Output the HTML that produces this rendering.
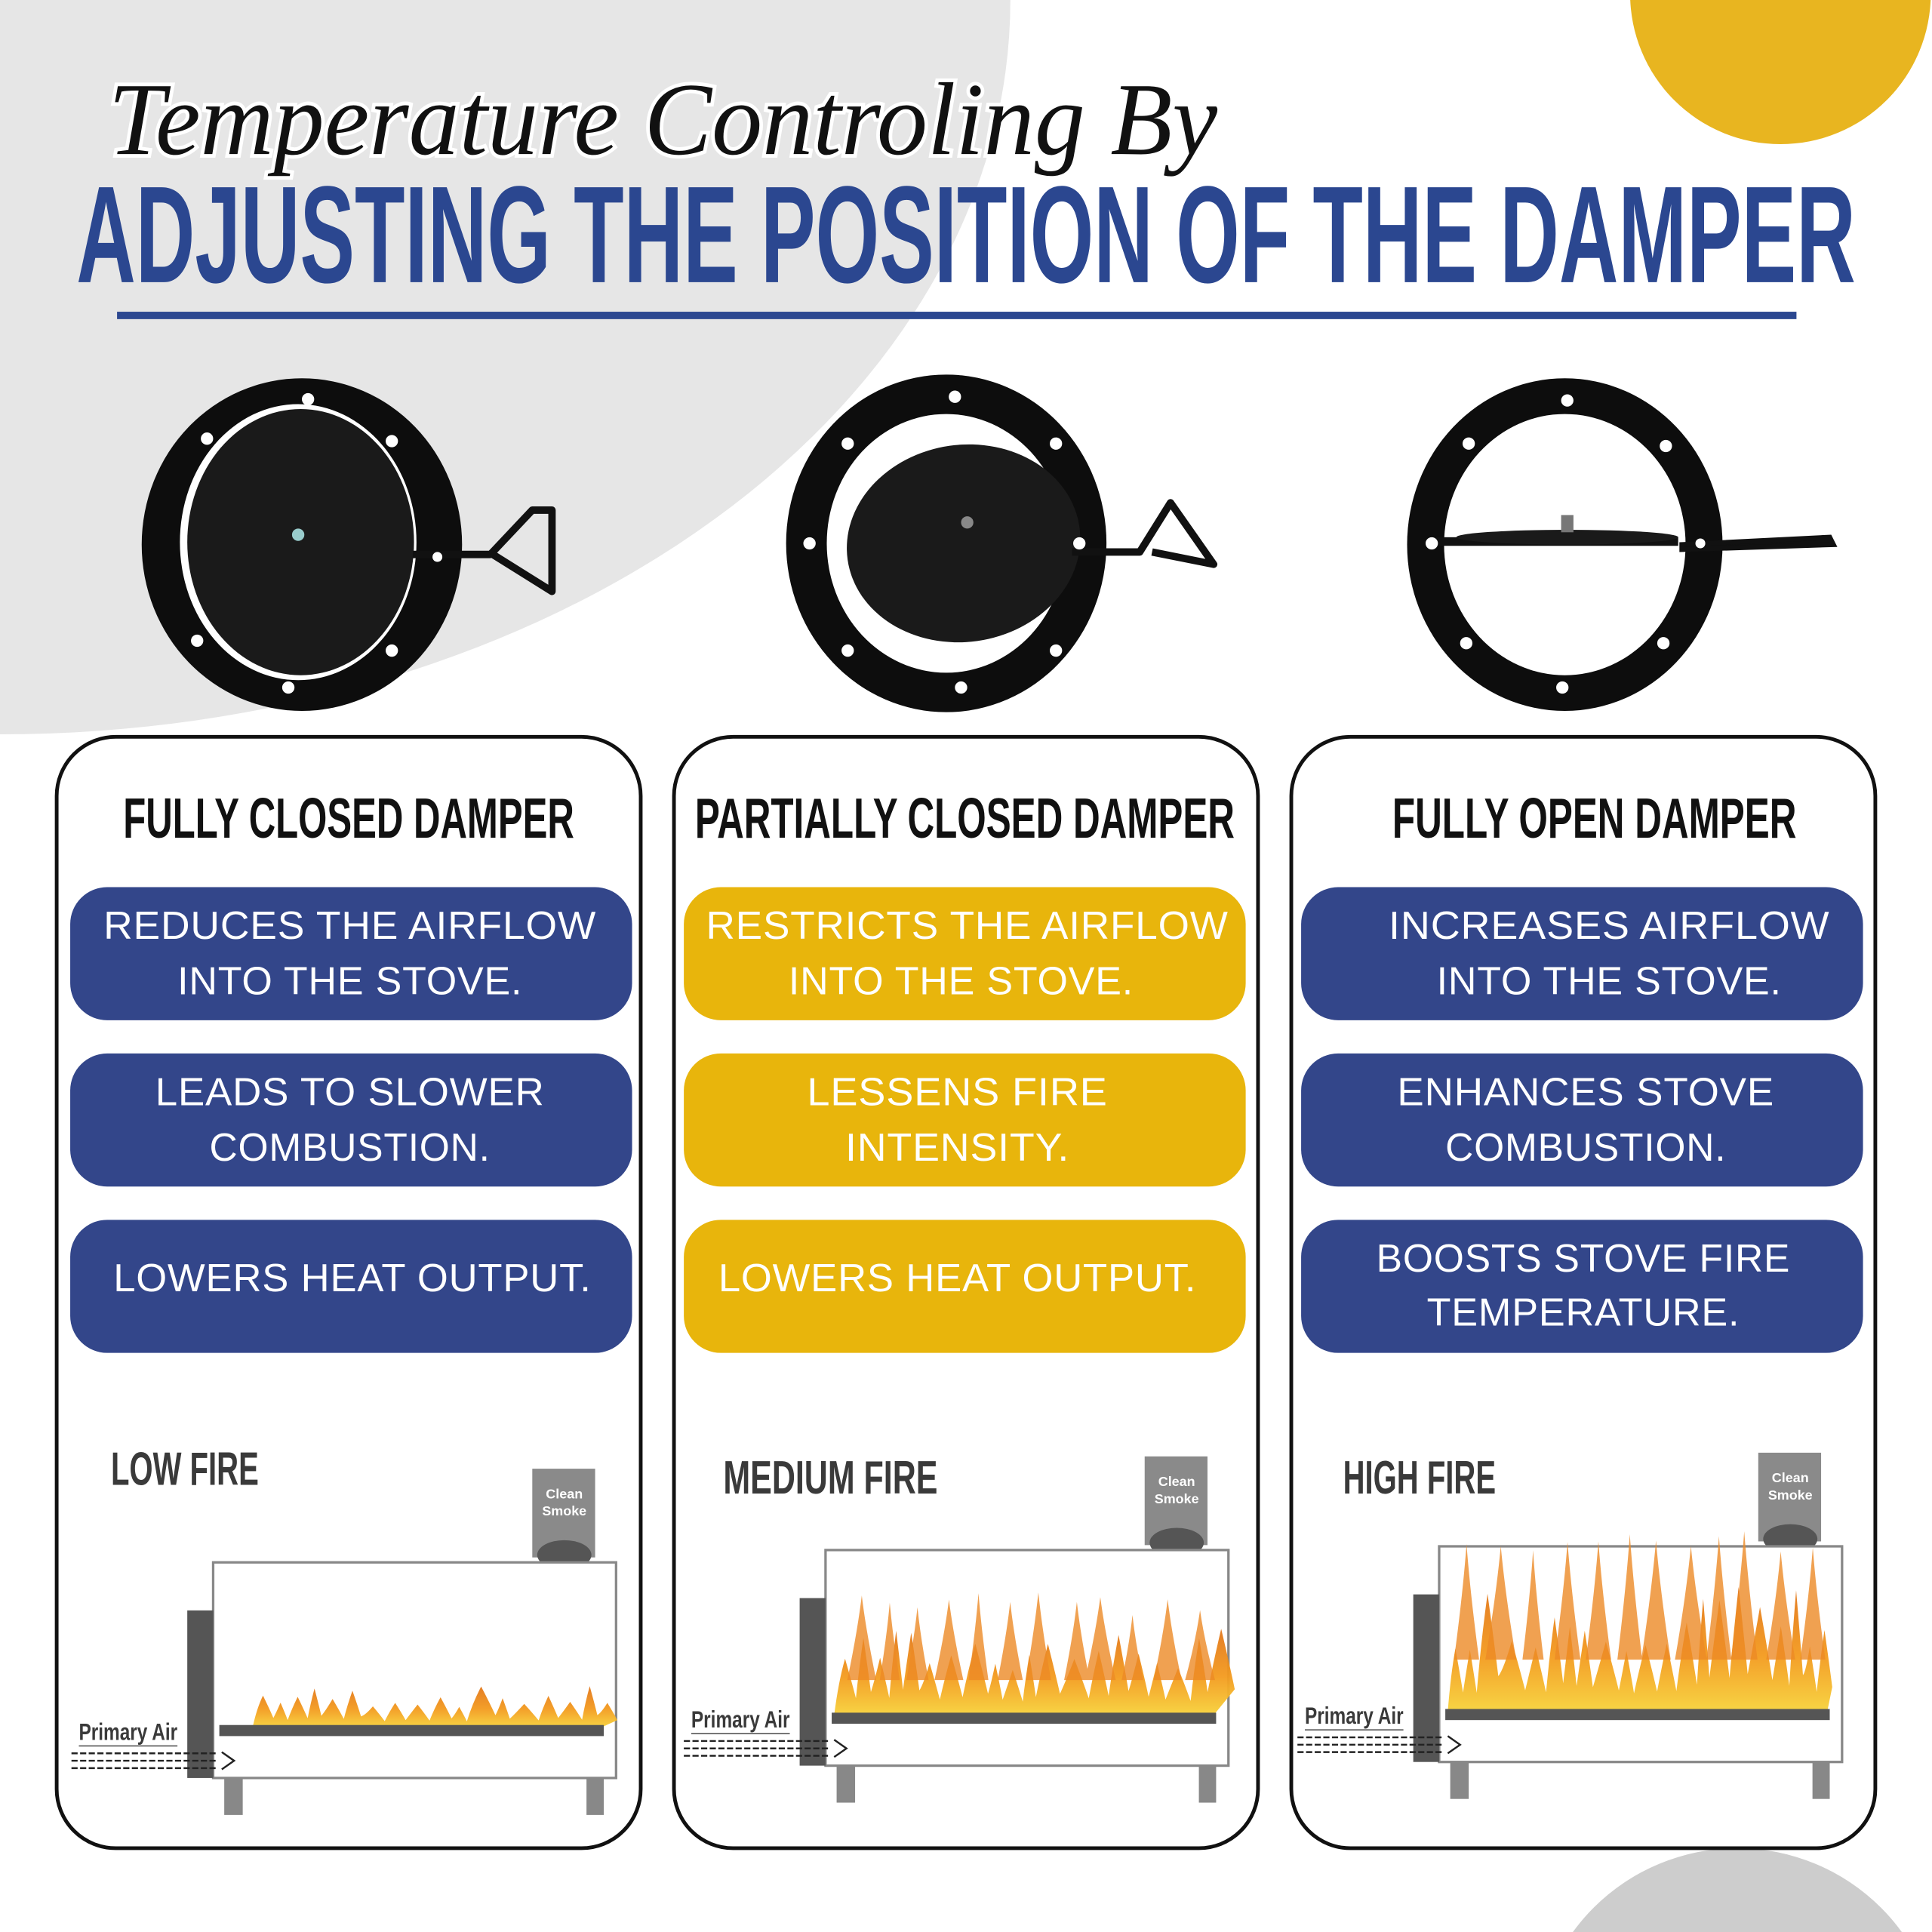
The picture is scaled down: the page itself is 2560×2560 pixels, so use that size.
<!DOCTYPE html>
<html><head><meta charset="utf-8">
<style>
html,body{margin:0;padding:0;background:#fff;width:2560px;height:2560px;overflow:hidden;}
svg{display:block;}
.h{font-family:"Liberation Sans Narrow","Liberation Sans",sans-serif;font-weight:bold;fill:#111;}
.p{font-family:"Liberation Sans",sans-serif;fill:#fff;font-size:32px;letter-spacing:0.5px;}
.f{font-family:"Liberation Sans Narrow","Liberation Sans",sans-serif;font-weight:bold;fill:#3a3a3a;}
</style></head>
<body>
<svg id="s" width="2560" height="2560" viewBox="0 0 1568 1568" xmlns="http://www.w3.org/2000/svg">
<defs>
<linearGradient id="fl" x1="0" y1="1" x2="0" y2="0">
<stop offset="0" stop-color="#f7d23a"/><stop offset="0.45" stop-color="#f39a1e"/><stop offset="1" stop-color="#e2761a"/>
</linearGradient>
</defs>
<rect width="1568" height="1568" fill="#fff"/>
<ellipse cx="0" cy="0" rx="820" ry="596" fill="#e6e6e6"/>
<circle cx="1445" cy="-5" r="122" fill="#e8b520"/>
<circle cx="1410" cy="1665" r="165" fill="#cdcdcd"/>

<text x="88" y="125" font-family="Liberation Serif" font-style="italic" font-size="84" fill="#111" stroke="#fff" stroke-width="6" paint-order="stroke" textLength="900" lengthAdjust="spacingAndGlyphs">Temperature Controling By</text>
<text x="62" y="229" font-family="Liberation Sans Narrow, Liberation Sans, sans-serif" font-weight="bold" font-size="112" fill="#2b4790" textLength="1444" lengthAdjust="spacingAndGlyphs">ADJUSTING THE POSITION OF THE DAMPER</text>
<rect x="95" y="253" width="1363" height="6" fill="#2b4790"/>

<g>
<ellipse cx="245" cy="442" rx="130" ry="135" fill="#0d0d0d"/>
<ellipse cx="242" cy="440" rx="96" ry="112" fill="#fff"/>
<ellipse cx="244" cy="440" rx="92" ry="108" fill="#1a1a1a"/>
<circle cx="242" cy="434" r="5" fill="#9cc"/>
<path d="M335 450 L398 450 L432 414 L448 414 L448 480 L400 450" fill="none" stroke="#111" stroke-width="6" stroke-linejoin="round"/>
<g fill="#fff"><circle cx="250" cy="324" r="5"/><circle cx="168" cy="356" r="5"/><circle cx="318" cy="358" r="5"/><circle cx="355" cy="452" r="4"/><circle cx="160" cy="520" r="5"/><circle cx="318" cy="528" r="5"/><circle cx="234" cy="558" r="5"/></g>
</g>
<g>
<ellipse cx="768" cy="441" rx="130" ry="137" fill="#0d0d0d"/>
<ellipse cx="768" cy="441" rx="97" ry="105" fill="#fff"/>
<ellipse cx="782" cy="441" rx="95" ry="80" fill="#1a1a1a" transform="rotate(-8 782 441)"/>
<circle cx="785" cy="424" r="5" fill="#888"/>
<path d="M870 448 L925 448 L950 408 L985 458 L935 448" fill="none" stroke="#111" stroke-width="6" stroke-linejoin="round"/>
<g fill="#fff"><circle cx="775" cy="322" r="5"/><circle cx="688" cy="360" r="5"/><circle cx="857" cy="360" r="5"/><circle cx="657" cy="441" r="5"/><circle cx="876" cy="441" r="5"/><circle cx="688" cy="528" r="5"/><circle cx="857" cy="528" r="5"/><circle cx="780" cy="558" r="5"/></g>
</g>
<g>
<ellipse cx="1270" cy="442" rx="128" ry="135" fill="#0d0d0d"/>
<ellipse cx="1270" cy="442" rx="98" ry="106" fill="#fff"/>
<rect x="1162" y="436" width="200" height="7" fill="#111"/>
<ellipse cx="1272" cy="436" rx="90" ry="6" fill="#1a1a1a"/>
<rect x="1267" y="418" width="10" height="14" fill="#777"/>
<path d="M1365 442 L1485 436 L1488 442 L1365 446 Z" fill="#111" stroke="#111" stroke-width="4"/>
<g fill="#fff"><circle cx="1272" cy="325" r="5"/><circle cx="1192" cy="360" r="5"/><circle cx="1352" cy="362" r="5"/><circle cx="1162" cy="441" r="5"/><circle cx="1380" cy="441" r="4"/><circle cx="1190" cy="522" r="5"/><circle cx="1350" cy="522" r="5"/><circle cx="1268" cy="558" r="5"/></g>
</g>

<g fill="none" stroke="#111" stroke-width="3">
<rect x="46" y="598" width="474" height="902" rx="48"/>
<rect x="547" y="598" width="474" height="902" rx="48"/>
<rect x="1048" y="598" width="474" height="902" rx="48"/>
</g>
<text class="h" x="283" y="680" font-size="46" text-anchor="middle" textLength="366" lengthAdjust="spacingAndGlyphs">FULLY CLOSED DAMPER</text>
<text class="h" x="783" y="680" font-size="46" text-anchor="middle" textLength="438" lengthAdjust="spacingAndGlyphs">PARTIALLY CLOSED DAMPER</text>
<text class="h" x="1294" y="680" font-size="46" text-anchor="middle" textLength="328" lengthAdjust="spacingAndGlyphs">FULLY OPEN DAMPER</text>

<g>
<rect x="57" y="720" width="456" height="108" rx="30" fill="#33468a"/>
<rect x="57" y="855" width="456" height="108" rx="30" fill="#33468a"/>
<rect x="57" y="990" width="456" height="108" rx="30" fill="#33468a"/>
<rect x="555" y="720" width="456" height="108" rx="30" fill="#e8b50c"/>
<rect x="555" y="855" width="456" height="108" rx="30" fill="#e8b50c"/>
<rect x="555" y="990" width="456" height="108" rx="30" fill="#e8b50c"/>
<rect x="1056" y="720" width="456" height="108" rx="30" fill="#33468a"/>
<rect x="1056" y="855" width="456" height="108" rx="30" fill="#33468a"/>
<rect x="1056" y="990" width="456" height="108" rx="30" fill="#33468a"/>
</g>
<g text-anchor="middle">
<text x="284" y="762" class="p" textLength="400" lengthAdjust="spacingAndGlyphs">REDUCES THE AIRFLOW</text><text x="284" y="807" class="p" textLength="280" lengthAdjust="spacingAndGlyphs">INTO THE STOVE.</text>
<text x="284" y="897" class="p" textLength="316" lengthAdjust="spacingAndGlyphs">LEADS TO SLOWER</text><text x="284" y="942" class="p" textLength="228" lengthAdjust="spacingAndGlyphs">COMBUSTION.</text>
<text x="286" y="1048" class="p" textLength="388" lengthAdjust="spacingAndGlyphs">LOWERS HEAT OUTPUT.</text>
<text x="785" y="762" class="p" textLength="424" lengthAdjust="spacingAndGlyphs">RESTRICTS THE AIRFLOW</text><text x="780" y="807" class="p" textLength="280" lengthAdjust="spacingAndGlyphs">INTO THE STOVE.</text>
<text x="777" y="897" class="p" textLength="244" lengthAdjust="spacingAndGlyphs">LESSENS FIRE</text><text x="777" y="942" class="p" textLength="182" lengthAdjust="spacingAndGlyphs">INTENSITY.</text>
<text x="777" y="1048" class="p" textLength="388" lengthAdjust="spacingAndGlyphs">LOWERS HEAT OUTPUT.</text>
<text x="1306" y="762" class="p" textLength="358" lengthAdjust="spacingAndGlyphs">INCREASES AIRFLOW</text><text x="1306" y="807" class="p" textLength="280" lengthAdjust="spacingAndGlyphs">INTO THE STOVE.</text>
<text x="1287" y="897" class="p" textLength="306" lengthAdjust="spacingAndGlyphs">ENHANCES STOVE</text><text x="1287" y="942" class="p" textLength="228" lengthAdjust="spacingAndGlyphs">COMBUSTION.</text>
<text x="1285" y="1032" class="p" textLength="336" lengthAdjust="spacingAndGlyphs">BOOSTS STOVE FIRE</text><text x="1285" y="1076" class="p" textLength="254" lengthAdjust="spacingAndGlyphs">TEMPERATURE.</text>
</g>
<g id="stoves"></g>
</svg>
<script>
(function(){
var NS="http://www.w3.org/2000/svg",g=document.getElementById("stoves");
function el(t,a,p){var e=document.createElementNS(NS,t);for(var k in a)e.setAttribute(k,a[k]);(p||g).appendChild(e);return e;}
var S=[{dx:0,dy:0,h:45,lab:"LOW FIRE",lx:90,ly:1205,lw:120,x0:205},{dx:497,dy:-10,h:95,lab:"MEDIUM FIRE",lx:587,ly:1212,lw:174,x0:180},{dx:995,dy:-13,h:140,lab:"HIGH FIRE",lx:1090,ly:1212,lw:124,x0:180}];
var seed=7;function r(){seed=(seed*9301+49297)%233280;return seed/233280;}
S.forEach(function(s){
 var G=el("g",{transform:"translate("+s.dx+","+s.dy+")"});
 var t=el("text",{x:s.lx-s.dx,y:s.ly-s.dy,"class":"f","font-size":"38",textLength:s.lw,lengthAdjust:"spacingAndGlyphs"},G);t.textContent=s.lab;
 el("rect",{x:432,y:1192,width:51,height:72,fill:"#8a8a8a"},G);
 var c1=el("text",{x:458,y:1216,"font-family":"Liberation Sans Narrow, Liberation Sans, sans-serif","font-weight":"bold","font-size":"11",fill:"#fff","text-anchor":"middle"},G);c1.textContent="Clean";
 var c2=el("text",{x:458,y:1230,"font-family":"Liberation Sans Narrow, Liberation Sans, sans-serif","font-weight":"bold","font-size":"11",fill:"#fff","text-anchor":"middle"},G);c2.textContent="Smoke";
 el("ellipse",{cx:458,cy:1262,rx:22,ry:12,fill:"#555"},G);
 el("rect",{x:173,y:1268,width:327,height:175,fill:"#fff",stroke:"#888","stroke-width":"2"},G);
 el("rect",{x:152,y:1307,width:21,height:136,fill:"#555"},G);
 el("rect",{x:182,y:1443,width:15,height:30,fill:"#888"},G);
 el("rect",{x:476,y:1443,width:14,height:30,fill:"#888"},G);
 var base=1402;
 // body of fire
 var d="M"+s.x0+" "+base,x=s.x0;
 while(x<488){var w=10+r()*14;var hh=s.h*(0.35+r()*0.4);d+=" Q"+(x+w*0.2)+" "+(base-hh*0.6)+" "+(x+w/2)+" "+(base-hh)+" Q"+(x+w*0.8)+" "+(base-hh*0.6)+" "+(x+w)+" "+(base-hh*0.3);x+=w;}
 d+=" L488 "+base+" Z";
 el("path",{d:d,fill:"url(#fl)",opacity:"0.95"},G);
 // tall tongues
 if(s.h>60){var d2="";for(var i=0;i<12;i++){var cx=s.x0+15+i*25+r()*8,hh2=s.h*(0.85+r()*0.2),ww=8+r()*5;d2+="M"+(cx-ww)+" "+(base-s.h*0.3)+" Q"+(cx-ww*0.3)+" "+(base-hh2*0.7)+" "+cx+" "+(base-hh2)+" Q"+(cx+ww*0.3)+" "+(base-hh2*0.7)+" "+(cx+ww)+" "+(base-s.h*0.3)+" Z ";}
 el("path",{d:d2,fill:"#ec8a25",opacity:"0.8"},G);}
 el("rect",{x:178,y:1400,width:312,height:9,fill:"#555"},G);
 var pa=el("text",{x:64,y:1412,"class":"f","font-size":"19",textLength:80,lengthAdjust:"spacingAndGlyphs"},G);pa.textContent="Primary Air";
 el("line",{x1:64,y1:1417,x2:144,y2:1417,stroke:"#555","stroke-width":"1"},G);
 [1423,1429,1435].forEach(function(y){el("line",{x1:58,y1:y,x2:175,y2:y,stroke:"#222","stroke-width":"1.5","stroke-dasharray":"5 2"},G);});
 el("path",{d:"M180 1422 L190 1429 L180 1436",fill:"none",stroke:"#222","stroke-width":"1.5"},G);
});
})();
</script>
</body></html>
